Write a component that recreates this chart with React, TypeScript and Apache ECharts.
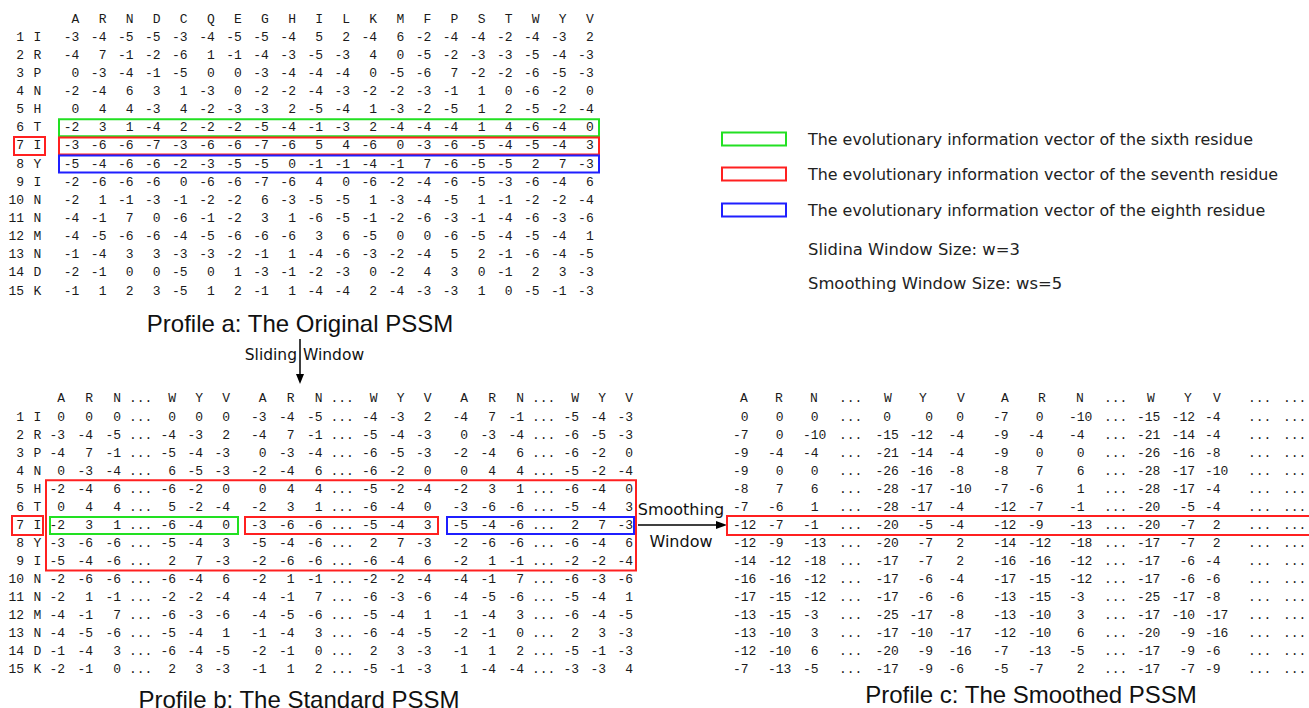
import React, { useEffect, useRef } from 'react';
import * as echarts from 'echarts';

// ---------------- DATA ----------------
const aminoAcids = ['A', 'R', 'N', 'D', 'C', 'Q', 'E', 'G', 'H', 'I', 'L', 'K', 'M', 'F', 'P', 'S', 'T', 'W', 'Y', 'V'];
const residues = ['I', 'R', 'P', 'N', 'H', 'T', 'I', 'Y', 'I', 'N', 'N', 'M', 'N', 'D', 'K'];

const originalPSSM = [
  [-3, -4, -5, -5, -3, -4, -5, -5, -4, 5, 2, -4, 6, -2, -4, -4, -2, -4, -3, 2],
  [-4, 7, -1, -2, -6, 1, -1, -4, -3, -5, -3, 4, 0, -5, -2, -3, -3, -5, -4, -3],
  [0, -3, -4, -1, -5, 0, 0, -3, -4, -4, -4, 0, -5, -6, 7, -2, -2, -6, -5, -3],
  [-2, -4, 6, 3, 1, -3, 0, -2, -2, -4, -3, -2, -2, -3, -1, 1, 0, -6, -2, 0],
  [0, 4, 4, -3, 4, -2, -3, -3, 2, -5, -4, 1, -3, -2, -5, 1, 2, -5, -2, -4],
  [-2, 3, 1, -4, 2, -2, -2, -5, -4, -1, -3, 2, -4, -4, -4, 1, 4, -6, -4, 0],
  [-3, -6, -6, -7, -3, -6, -6, -7, -6, 5, 4, -6, 0, -3, -6, -5, -4, -5, -4, 3],
  [-5, -4, -6, -6, -2, -3, -5, -5, 0, -1, -1, -4, -1, 7, -6, -5, -5, 2, 7, -3],
  [-2, -6, -6, -6, 0, -6, -6, -7, -6, 4, 0, -6, -2, -4, -6, -5, -3, -6, -4, 6],
  [-2, 1, -1, -3, -1, -2, -2, 6, -3, -5, -5, 1, -3, -4, -5, 1, -1, -2, -2, -4],
  [-4, -1, 7, 0, -6, -1, -2, 3, 1, -6, -5, -1, -2, -6, -3, -1, -4, -6, -3, -6],
  [-4, -5, -6, -6, -4, -5, -6, -6, -6, 3, 6, -5, 0, 0, -6, -5, -4, -5, -4, 1],
  [-1, -4, 3, 3, -3, -3, -2, -1, 1, -4, -6, -3, -2, -4, 5, 2, -1, -6, -4, -5],
  [-2, -1, 0, 0, -5, 0, 1, -3, -1, -2, -3, 0, -2, 4, 3, 0, -1, 2, 3, -3],
  [-1, 1, 2, 3, -5, 1, 2, -1, 1, -4, -4, 2, -4, -3, -3, 1, 0, -5, -1, -3],
];

const windowHeader = ['A', 'R', 'N', 'W', 'Y', 'V'];

// three windows (previous, current, next residue): A R N ... W Y V each
const standardPSSM = [
  [0, 0, 0, 0, 0, 0, -3, -4, -5, -4, -3, 2, -4, 7, -1, -5, -4, -3],
  [-3, -4, -5, -4, -3, 2, -4, 7, -1, -5, -4, -3, 0, -3, -4, -6, -5, -3],
  [-4, 7, -1, -5, -4, -3, 0, -3, -4, -6, -5, -3, -2, -4, 6, -6, -2, 0],
  [0, -3, -4, 6, -5, -3, -2, -4, 6, -6, -2, 0, 0, 4, 4, -5, -2, -4],
  [-2, -4, 6, -6, -2, 0, 0, 4, 4, -5, -2, -4, -2, 3, 1, -6, -4, 0],
  [0, 4, 4, 5, -2, -4, -2, 3, 1, -6, -4, 0, -3, -6, -6, -5, -4, 3],
  [-2, 3, 1, -6, -4, 0, -3, -6, -6, -5, -4, 3, -5, -4, -6, 2, 7, -3],
  [-3, -6, -6, -5, -4, 3, -5, -4, -6, 2, 7, -3, -2, -6, -6, -6, -4, 6],
  [-5, -4, -6, 2, 7, -3, -2, -6, -6, -6, -4, 6, -2, 1, -1, -2, -2, -4],
  [-2, -6, -6, -6, -4, 6, -2, 1, -1, -2, -2, -4, -4, -1, 7, -6, -3, -6],
  [-2, 1, -1, -2, -2, -4, -4, -1, 7, -6, -3, -6, -4, -5, -6, -5, -4, 1],
  [-4, -1, 7, -6, -3, -6, -4, -5, -6, -5, -4, 1, -1, -4, 3, -6, -4, -5],
  [-4, -5, -6, -5, -4, 1, -1, -4, 3, -6, -4, -5, -2, -1, 0, 2, 3, -3],
  [-1, -4, 3, -6, -4, -5, -2, -1, 0, 2, 3, -3, -1, 1, 2, -5, -1, -3],
  [-2, -1, 0, 2, 3, -3, -1, 1, 2, -5, -1, -3, 1, -4, -4, -3, -3, 4],
];

// two visible windows: A R N ... W Y V
const smoothedPSSM = [
  [0, 0, 0, 0, 0, 0, -7, 0, -10, -15, -12, -4],
  [-7, 0, -10, -15, -12, -4, -9, -4, -4, -21, -14, -4],
  [-9, -4, -4, -21, -14, -4, -9, 0, 0, -26, -16, -8],
  [-9, 0, 0, -26, -16, -8, -8, 7, 6, -28, -17, -10],
  [-8, 7, 6, -28, -17, -10, -7, -6, 1, -28, -17, -4],
  [-7, -6, 1, -28, -17, -4, -12, -7, -1, -20, -5, -4],
  [-12, -7, -1, -20, -5, -4, -12, -9, -13, -20, -7, 2],
  [-12, -9, -13, -20, -7, 2, -14, -12, -18, -17, -7, 2],
  [-14, -12, -18, -17, -7, 2, -16, -16, -12, -17, -6, -4],
  [-16, -16, -12, -17, -6, -4, -17, -15, -12, -17, -6, -6],
  [-17, -15, -12, -17, -6, -6, -13, -15, -3, -25, -17, -8],
  [-13, -15, -3, -25, -17, -8, -13, -10, 3, -17, -10, -17],
  [-13, -10, 3, -17, -10, -17, -12, -10, 6, -20, -9, -16],
  [-12, -10, 6, -20, -9, -16, -7, -13, -5, -17, -9, -6],
  [-7, -13, -5, -17, -9, -6, -5, -7, 2, -17, -7, -9],
];

const legendLabels = [
  'The evolutionary information vector of the sixth residue',
  'The evolutionary information vector of the seventh residue',
  'The evolutionary information vector of the eighth residue',
];
const windowNotes = ['Slidina Window Size: w=3', 'Smoothing Window Size: ws=5'];
const profileTitles = ['Profile a: The Original PSSM', 'Profile b: The Standard PSSM', 'Profile c: The Smoothed PSSM'];
const stepLabels = ['Sliding', 'Window', 'Smoothing', 'Window'];

// ---------------- STYLE / LAYOUT ----------------
const MONO = "'Liberation Mono', monospace";
const SANS = "'Liberation Sans', Arial, sans-serif";
const NOTE = "'DejaVu Sans', Verdana, sans-serif";
const INK = '#1a1a1a';
const GREEN = '#22e022';
const RED = '#ff2020';
const BLUE = '#1f1fff';
const FS = 13;
const CW = FS * 0.6;

function txt(x: number, y: number, text: string, align = 'center', size = FS, family = MONO, color = INK): any {
  return {
    type: 'text',
    x,
    y,
    silent: true,
    style: { text, fill: color, fontSize: size, fontFamily: family, textAlign: align, textVerticalAlign: 'middle' },
  };
}
function box(x: number, y: number, w: number, h: number, color: string): any {
  return {
    type: 'rect',
    silent: true,
    shape: { x, y, width: w, height: h },
    style: { fill: 'none', stroke: color, lineWidth: 2 },
  };
}

function buildElements(): any[] {
  const els: any[] = [];

  // ---- Profile a ----
  const aCol0 = 75.5, aStep = 27.07, aHeadY = 19, aRow0 = 37, aRowStep = 18.15;
  const aRowY = (i: number) => aRow0 + i * aRowStep;
  aminoAcids.forEach((a, k) => els.push(txt(aCol0 + k * aStep, aHeadY, a)));
  originalPSSM.forEach((row, i) => {
    els.push(txt(24, aRowY(i), String(i + 1), 'right'));
    els.push(txt(37.5, aRowY(i), residues[i]));
    row.forEach((v, k) => els.push(txt(aCol0 + k * aStep + CW / 2, aRowY(i), String(v), 'right')));
  });
  els.push(box(59, aRowY(5) - 8.5, 540, 17, GREEN));
  els.push(box(59, aRowY(6) - 8.5, 540, 17, RED));
  els.push(box(59, aRowY(7) - 8.5, 540, 17, BLUE));
  els.push(box(14, aRowY(6) - 9, 31, 18, RED));
  els.push(txt(300, 323, profileTitles[0], 'center', 24, SANS, '#111'));

  // sliding window arrow
  els.push(txt(297, 355, stepLabels[0], 'right', 15.5, NOTE, '#111'));
  els.push(txt(303, 355, stepLabels[1], 'left', 15.5, NOTE, '#111'));
  els.push({ type: 'line', silent: true, shape: { x1: 300, y1: 339, x2: 300, y2: 376 }, style: { stroke: '#000', lineWidth: 1.5 } });
  els.push({ type: 'polygon', silent: true, shape: { points: [[296, 374], [304, 374], [300, 384]] }, style: { fill: '#000' } });

  // ---- Profile b ----
  const bHeadY = 398, bRow0 = 417, bRowStep = 18.07;
  const bRowY = (i: number) => bRow0 + i * bRowStep;
  const bOffsets = [0, 28, 56, 111, 138, 165];
  const bBase = (g: number) => 65 + g * 201.5;
  for (let g = 0; g < 3; g++) {
    windowHeader.forEach((h, j) => els.push(txt(bBase(g) + bOffsets[j] - CW / 2, bHeadY, h)));
    els.push(txt(bBase(g) + 64, bHeadY, '...', 'left'));
  }
  standardPSSM.forEach((row, i) => {
    els.push(txt(24, bRowY(i), String(i + 1), 'right'));
    els.push(txt(37.5, bRowY(i), residues[i]));
    for (let g = 0; g < 3; g++) {
      for (let j = 0; j < 6; j++) {
        els.push(txt(bBase(g) + bOffsets[j], bRowY(i), String(row[g * 6 + j]), 'right'));
      }
      els.push(txt(bBase(g) + 64, bRowY(i), '...', 'left'));
    }
  });
  els.push(box(46, bRowY(4) - 9, 590, bRowY(8) - bRowY(4) + 18, RED));
  els.push(box(50, bRowY(6) - 8.5, 188, 17, GREEN));
  els.push(box(245, bRowY(6) - 8.5, 193, 17, RED));
  els.push(box(447, bRowY(6) - 8.5, 187, 17, BLUE));
  els.push(box(12, bRowY(6) - 9.5, 31, 19, RED));
  els.push(txt(299, 699, profileTitles[1], 'center', 24, SANS, '#111'));

  // smoothing arrow
  els.push(txt(681, 509, stepLabels[2], 'center', 16, NOTE, '#111'));
  els.push(txt(681, 541, stepLabels[3], 'center', 16, NOTE, '#111'));
  els.push({ type: 'line', silent: true, shape: { x1: 638, y1: 525, x2: 718, y2: 525 }, style: { stroke: '#000', lineWidth: 1.5 } });
  els.push({ type: 'polygon', silent: true, shape: { points: [[716, 521], [716, 529], [727, 525]] }, style: { fill: '#000' } });

  // ---- Profile c ----
  const cCols = [
    { x: 733, align: 'left', head: 744 },
    { x: 768, align: 'left', head: 779 },
    { x: 803, align: 'left', head: 814 },
    { x: 875.5, align: 'left', head: 888 },
    { x: 933, align: 'right', head: 923 },
    { x: 948.5, align: 'left', head: 961 },
    { x: 993, align: 'left', head: 1005 },
    { x: 1028, align: 'left', head: 1042 },
    { x: 1069, align: 'left', head: 1080 },
    { x: 1137, align: 'left', head: 1151 },
    { x: 1195, align: 'right', head: 1188 },
    { x: 1205, align: 'left', head: 1217 },
  ];
  const cDots = [839, 1104, 1248, 1283];
  cCols.forEach((c, j) => els.push(txt(c.head, bHeadY, windowHeader[j % 6])));
  cDots.forEach((x) => els.push(txt(x, bHeadY, '...', 'left')));
  smoothedPSSM.forEach((row, i) => {
    row.forEach((v, j) => {
      const c = cCols[j];
      const x = c.align === 'left' && v >= 0 ? c.x + CW : c.x;
      els.push(txt(x, bRowY(i), String(v), c.align));
    });
    cDots.forEach((x) => els.push(txt(x, bRowY(i), '...', 'left')));
  });
  els.push(box(727, bRowY(6) - 9.5, 620, 19, RED));
  els.push(txt(1031, 694, profileTitles[2], 'center', 24, SANS, '#111'));

  // ---- Legend ----
  const legendColors = [GREEN, RED, BLUE];
  const legendY = [139, 174, 210];
  legendLabels.forEach((l, i) => {
    els.push(box(722, legendY[i] - 6.5, 64, 13, legendColors[i]));
    els.push(txt(808, legendY[i], l, 'left', 15.9, NOTE, '#222'));
  });
  els.push(txt(808, 249, windowNotes[0], 'left', 16.4, NOTE, '#222'));
  els.push(txt(808, 283, windowNotes[1], 'left', 16.4, NOTE, '#222'));

  return els;
}

export default function App() {
  const ref = useRef<HTMLDivElement>(null);
  useEffect(() => {
    document.body.style.margin = '0';
    if (!ref.current) return;
    const chart = echarts.init(ref.current, undefined, { renderer: 'svg' });
    chart.setOption({
      animation: false,
      backgroundColor: '#ffffff',
      graphic: { elements: buildElements() },
    });
    return () => chart.dispose();
  }, []);
  return <div ref={ref} style={{ width: 1309, height: 708 }} />;
}
